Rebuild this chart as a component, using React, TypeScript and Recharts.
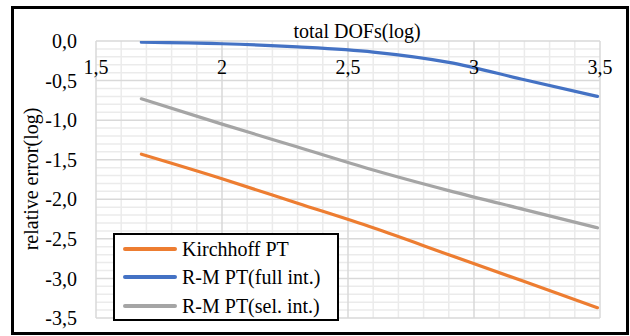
import React from 'react';
import { LineChart, Line, XAxis, YAxis, ReferenceLine, Legend, Label } from 'recharts';

// total DOFs (log10)
const dofsLog = [1.68, 2.0, 2.3, 2.6, 2.9, 3.2, 3.49];
// relative error (log10)
const kirchhoffPT = [-1.43, -1.74, -2.05, -2.36, -2.7, -3.04, -3.37];
const rmFullInt = [-0.015, -0.035, -0.075, -0.14, -0.27, -0.49, -0.7];
const rmSelInt = [-0.73, -1.05, -1.34, -1.63, -1.89, -2.13, -2.36];

const seriesNames = ['Kirchhoff PT', 'R-M PT(full int.)', 'R-M PT(sel. int.)'];
const seriesColors = ['#ED7D31', '#4472C4', '#A5A5A5'];

const xTicks = [1.5, 2, 2.5, 3, 3.5];
const yTicks = [0, -0.5, -1, -1.5, -2, -2.5, -3, -3.5];
const xMinor = [1.6, 1.7, 1.8, 1.9, 2.1, 2.2, 2.3, 2.4, 2.6, 2.7, 2.8, 2.9, 3.1, 3.2, 3.3, 3.4];
const yMinor = [
  -0.1, -0.2, -0.3, -0.4, -0.6, -0.7, -0.8, -0.9, -1.1, -1.2, -1.3, -1.4, -1.6, -1.7, -1.8, -1.9,
  -2.1, -2.2, -2.3, -2.4, -2.6, -2.7, -2.8, -2.9, -3.1, -3.2, -3.3, -3.4,
];

const data = dofsLog.map((x, i) => ({
  x,
  k: kirchhoffPT[i],
  f: rmFullInt[i],
  s: rmSelInt[i],
}));

const FONT =
  "'Times New Roman', Times, Tinos, 'Liberation Serif', 'Noto Serif', 'DejaVu Serif', FreeSerif, 'Noto Serif CJK SC', serif";
const fmtX = (v: number) => String(v).replace('.', ',');
const fmtY = (v: number) => (Math.abs(v) < 1e-9 ? '0,0' : v.toFixed(1).replace('.', ','));

const XTick = (props: any) => {
  const { x, y, payload } = props;
  return (
    <text x={x} y={y + 33} textAnchor="middle" fill="#000" fontSize={20} style={{ fontFamily: FONT }}>
      {fmtX(payload.value)}
    </text>
  );
};

const LegendBox = (props: any) => {
  const payload = props.payload || [];
  const rows = [16, 44, 73];
  return (
    <div
      style={{
        position: 'relative',
        width: 226,
        height: 88,
        boxSizing: 'border-box',
        border: '2.5px solid #000',
        background: '#fff',
        fontFamily: FONT,
        fontSize: 20,
        color: '#000',
      }}
    >
      {payload.map((p: any, i: number) => (
        <React.Fragment key={i}>
          <div
            style={{
              position: 'absolute',
              left: 8,
              top: rows[i] - 2 - 2.5,
              width: 54,
              height: 4,
              borderRadius: 2,
              background: p.color,
            }}
          />
          <div
            style={{
              position: 'absolute',
              left: 67,
              top: rows[i] - 2.5 - 12,
              lineHeight: '24px',
              whiteSpace: 'nowrap',
            }}
          >
            {p.value}
          </div>
        </React.Fragment>
      ))}
    </div>
  );
};

export default function App() {
  return (
    <div style={{ position: 'absolute', left: 0, top: 0, width: 630, height: 336, background: '#fff' }}>
      <div
        style={{
          position: 'absolute',
          left: 11,
          top: 6,
          width: 618,
          height: 329,
          boxSizing: 'border-box',
          border: '3px solid #000',
        }}
      />
      <div style={{ position: 'absolute', left: 0, top: 0 }}>
        <LineChart width={630} height={336} data={data} margin={{ top: 0, right: 30, bottom: 18, left: 0 }}>
          <XAxis
            dataKey="x"
            type="number"
            orientation="top"
            domain={[1.5, 3.5]}
            ticks={xTicks}
            allowDataOverflow
            height={41}
            axisLine={false}
            tickLine={false}
            tickSize={0}
            tickMargin={0}
            tick={<XTick />}
            interval={0}
          >
            <Label
              content={(p: any) => {
                const vb = p.viewBox || { x: 96, width: 504 };
                return (
                  <text
                    x={vb.x + vb.width / 2 + 9}
                    y={38}
                    textAnchor="middle"
                    fill="#000"
                    fontSize={20}
                    style={{ fontFamily: FONT }}
                  >
                    total DOFs(log)
                  </text>
                );
              }}
            />
          </XAxis>
          <YAxis
            type="number"
            domain={[-3.5, 0]}
            ticks={yTicks}
            allowDataOverflow
            width={96}
            axisLine={false}
            tickLine={false}
            tickSize={0}
            tickMargin={19}
            interval={0}
            tickFormatter={fmtY}
            tick={{ fill: '#000', fontSize: 20, style: { fontFamily: FONT } }}
          >
            <Label
              content={() => (
                <text
                  x={31}
                  y={179}
                  transform="rotate(-90, 31, 179)"
                  textAnchor="middle"
                  dominantBaseline="central"
                  fill="#000"
                  fontSize={20}
                  style={{ fontFamily: FONT }}
                >
                  relative error(log)
                </text>
              )}
            />
          </YAxis>
          {xMinor.map((v) => (
            <ReferenceLine key={'xm' + v} x={v} stroke="#EBEBEB" strokeWidth={1.5} ifOverflow="visible" />
          ))}
          {yMinor.map((v) => (
            <ReferenceLine key={'ym' + v} y={v} stroke="#EBEBEB" strokeWidth={1.5} ifOverflow="visible" />
          ))}
          {xTicks.map((v) => (
            <ReferenceLine key={'xM' + v} x={v} stroke="#D9D9D9" strokeWidth={1.5} ifOverflow="visible" />
          ))}
          {yTicks.map((v) => (
            <ReferenceLine key={'yM' + v} y={v} stroke="#D9D9D9" strokeWidth={1.5} ifOverflow="visible" />
          ))}
          <Line
            dataKey="k"
            name={seriesNames[0]}
            type="monotone"
            stroke={seriesColors[0]}
            strokeWidth={3.2}
            strokeLinecap="round"
            dot={false}
            isAnimationActive={false}
          />
          <Line
            dataKey="f"
            name={seriesNames[1]}
            type="monotone"
            stroke={seriesColors[1]}
            strokeWidth={3.2}
            strokeLinecap="round"
            dot={false}
            isAnimationActive={false}
          />
          <Line
            dataKey="s"
            name={seriesNames[2]}
            type="monotone"
            stroke={seriesColors[2]}
            strokeWidth={3.2}
            strokeLinecap="round"
            dot={false}
            isAnimationActive={false}
          />
          <Legend
            layout="horizontal"
            verticalAlign="middle"
            align="center"
            content={<LegendBox />}
            wrapperStyle={{ position: 'absolute', left: 113, top: 233, width: 226, height: 88 }}
          />
        </LineChart>
      </div>
    </div>
  );
}
